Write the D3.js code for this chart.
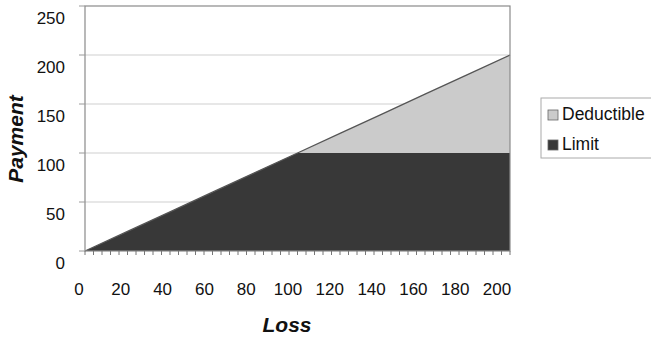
<!DOCTYPE html>
<html>
<head>
<meta charset="utf-8">
<script src="https://cdn.jsdelivr.net/npm/d3@7"></script>
<style>
  html, body { margin: 0; padding: 0; background: #fff; }
  svg { display: block; font-family: "Liberation Sans", Arial, sans-serif; }
</style>
</head>
<body>
<svg id="chart" width="651" height="338"></svg>
<script>
// Loss amounts along the horizontal axis
const loss = [0, 20, 40, 60, 80, 100, 120, 140, 160, 180, 200];
// Portion paid up to the limit
const limitPaid = [0, 20, 40, 60, 80, 100, 100, 100, 100, 100, 100];
// Portion above the limit (deductible layer), stacked on top
const deductiblePaid = [0, 0, 0, 0, 0, 0, 20, 40, 60, 80, 100];
const seriesNames = ["Deductible", "Limit"];
const yTicks = [0, 50, 100, 150, 200, 250];
const xTickLabels = [0, 20, 40, 60, 80, 100, 120, 140, 160, 180, 200];

const svg = d3.select("#chart");
const plotLeft = 85, plotRight = 510, plotTop = 6, plotBottom = 251;

const x = d3.scaleLinear().domain([0, 200]).range([plotLeft, plotRight]);
const xLabel = d3.scaleLinear().domain([0, 200]).range([79, 497]);
const y = d3.scaleLinear().domain([0, 250]).range([plotBottom, plotTop]);

const colors = { Deductible: "#cbcbcb", Limit: "#383838" };

// gridlines
svg.append("g").selectAll("line")
  .data(yTicks.filter(d => d > 0 && d < 250))
  .join("line")
  .attr("x1", plotLeft).attr("x2", plotRight)
  .attr("y1", d => y(d)).attr("y2", d => y(d))
  .attr("stroke", "#cfcfcf").attr("stroke-width", 1);

const rows = loss.map((l, i) => ({ loss: l, Limit: limitPaid[i], Deductible: deductiblePaid[i] }));
const stack = d3.stack().keys(["Limit", "Deductible"]);
const layers = stack(rows);

const area = d3.area()
  .x(d => x(d.data.loss))
  .y0(d => y(d[0]))
  .y1(d => y(d[1]));

svg.append("g").selectAll("path")
  .data(layers)
  .join("path")
  .attr("d", area)
  .attr("fill", d => colors[d.key]);

// top edge of the stacked total
const total = d3.line().x(d => x(d.data.loss)).y(d => y(d[1]));
svg.append("path").datum(layers[1]).attr("d", total)
  .attr("fill", "none").attr("stroke", "#555").attr("stroke-width", 1.3);

// plot frame
svg.append("rect")
  .attr("x", plotLeft).attr("y", plotTop)
  .attr("width", plotRight - plotLeft).attr("height", plotBottom - plotTop)
  .attr("fill", "none").attr("stroke", "#8a8a8a").attr("stroke-width", 1.2);

// y tick marks and labels
const yAxis = svg.append("g");
yAxis.selectAll("line").data(yTicks).join("line")
  .attr("x1", plotLeft - 6).attr("x2", plotLeft)
  .attr("y1", d => y(d)).attr("y2", d => y(d))
  .attr("stroke", "#9a9a9a");
yAxis.selectAll("text").data(yTicks).join("text")
  .attr("x", 65).attr("y", d => y(d) + 17.5)
  .attr("text-anchor", "end")
  .attr("font-size", 17).attr("fill", "#111")
  .text(d => d);

// x minor ticks and labels
const xAxis = svg.append("g");
xAxis.selectAll("line").data(d3.range(0, 201, 4)).join("line")
  .attr("x1", d => x(d)).attr("x2", d => x(d))
  .attr("y1", plotBottom).attr("y2", plotBottom + 4)
  .attr("stroke", "#777");
xAxis.selectAll("text").data(xTickLabels).join("text")
  .attr("x", d => xLabel(d)).attr("y", 295)
  .attr("text-anchor", "middle")
  .attr("font-size", 17).attr("fill", "#111")
  .text(d => d);

// axis titles
svg.append("text")
  .attr("x", 287).attr("y", 332)
  .attr("text-anchor", "middle")
  .attr("font-size", 21).attr("font-weight", "bold").attr("font-style", "italic")
  .attr("fill", "#111")
  .text("Loss");
svg.append("text")
  .attr("transform", "translate(23,139) rotate(-90)")
  .attr("text-anchor", "middle")
  .attr("font-size", 21).attr("font-weight", "bold").attr("font-style", "italic")
  .attr("fill", "#111")
  .text("Payment");

// legend
const legend = svg.append("g");
legend.append("rect")
  .attr("x", 541).attr("y", 98).attr("width", 112).attr("height", 60)
  .attr("fill", "#fff").attr("stroke", "#aaa");
seriesNames.forEach((name, i) => {
  const base = 120 + i * 30;
  legend.append("rect")
    .attr("x", 548).attr("y", base - 10).attr("width", 10).attr("height", 10)
    .attr("fill", colors[name]).attr("stroke", "#666").attr("stroke-width", 0.8);
  legend.append("text")
    .attr("x", 562).attr("y", base)
    .attr("font-size", 17.5).attr("fill", "#111")
    .text(name);
});
</script>
</body>
</html>
